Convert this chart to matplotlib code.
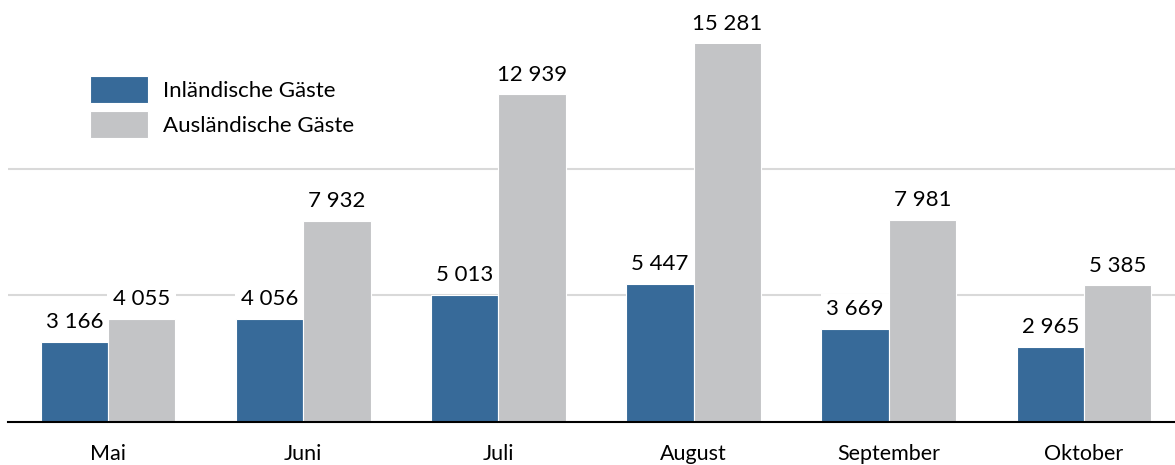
import matplotlib.pyplot as plt
import numpy as np

plt.rcParams['font.family'] = ['Lato', 'DejaVu Sans']

months = ['Mai', 'Juni', 'Juli', 'August', 'September', 'Oktober']
inland = [3166, 4056, 5013, 5447, 3669, 2965]
ausland = [4055, 7932, 12939, 15281, 7981, 5385]
series_names = ['Inländische Gäste', 'Ausländische Gäste']

blue = '#376A99'
grey = '#C3C4C6'

W, H = 1175, 465
fig = plt.figure(figsize=(W / 100, H / 100), dpi=100)
# axes placed in pixel terms: left 8, right 1175, bottom 421.7, top 44
ax = fig.add_axes([8 / W, (H - 421.7) / H, (1175 - 8) / W, (421.7 - 44) / H])

ymax = 14930
ax.set_xlim(-0.512, 5.466)
ax.set_ylim(0, ymax)

x = np.arange(len(months))
bw = 0.345
b1 = ax.bar(x - bw / 2, inland, bw, color=blue, edgecolor='white', linewidth=0.8,
            label=series_names[0], zorder=3)
b2 = ax.bar(x + bw / 2, ausland, bw, color=grey, edgecolor='white', linewidth=0.8,
            label=series_names[1], zorder=3)

def fmt(v):
    return f'{v:,}'.replace(',', ' ')

for bars, vals in [(b1, inland), (b2, ausland)]:
    for rect, v in zip(bars, vals):
        cx = rect.get_x() + rect.get_width() / 2
        ax.annotate(fmt(v), xy=(cx, min(v, ymax)), xytext=(0, 7), textcoords='offset points',
                    ha='center', va='bottom', fontsize=16, color='black', zorder=5,
                    annotation_clip=False,
                    bbox=dict(boxstyle='square,pad=0.25', fc='white', ec='none'))

ax.set_yticks([5000, 10000])
ax.yaxis.grid(True, color='#D9D9D9', linewidth=1.5, zorder=0)
ax.set_axisbelow(True)
ax.tick_params(axis='y', left=False, labelleft=False)
ax.set_xticks(x)
ax.set_xticklabels(months, fontsize=15.5)
ax.tick_params(axis='x', length=0, pad=16)

for s in ['top', 'right', 'left']:
    ax.spines[s].set_visible(False)
ax.spines['bottom'].set_color('black')
ax.spines['bottom'].set_linewidth(1.5)
ax.spines['bottom'].set_zorder(4)

leg = fig.legend(loc='upper left', bbox_to_anchor=(81 / W, 1 - 67 / H), frameon=False,
                 fontsize=16, handlelength=2.6, handleheight=1.5, labelspacing=0.35,
                 handletextpad=0.7, borderaxespad=0)

fig.savefig('out.png', dpi=100)
